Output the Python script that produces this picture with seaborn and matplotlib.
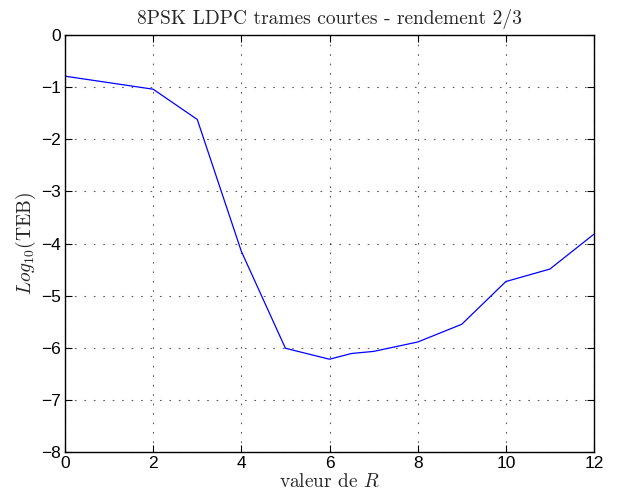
import matplotlib
matplotlib.use("Agg")
import matplotlib.pyplot as plt
import seaborn as sns
import pandas as pd

R = [0, 2, 3, 4, 5, 6, 6.5, 7, 8, 9, 10, 11, 12]
log_teb = [-0.79, -1.04, -1.62, -4.15, -6.01, -6.22, -6.11, -6.07, -5.89, -5.55, -4.73, -4.49, -3.82]
xticks = [0, 2, 4, 6, 8, 10, 12]
yticks = [0, -1, -2, -3, -4, -5, -6, -7, -8]

sns.set_style("white")
plt.rcParams['font.family'] = ['Liberation Sans', 'DejaVu Sans']
plt.rcParams['mathtext.fontset'] = 'cm'
plt.rcParams['axes.unicode_minus'] = True

df = pd.DataFrame({"R": R, "teb": log_teb})

fig = plt.figure(figsize=(6.25, 5), dpi=100)
ax = fig.add_axes([0.104, 0.096, 0.8464, 0.834])
sns.lineplot(data=df, x="R", y="teb", ax=ax, color="#0000ff", linewidth=0.9)

ax.set_xlim(0, 12)
ax.set_ylim(-8, 0)
ax.set_xticks(xticks)
ax.set_yticks(yticks)
ax.set_xticklabels([str(v) for v in xticks])
ax.set_yticklabels([("\u2212" + str(-v)) if v < 0 else str(v) for v in yticks])
ax.tick_params(direction='in', length=5, width=0.8, labelsize=12.5, top=True, right=True,
               bottom=True, left=True, colors='black', pad=3)
for s in ax.spines.values():
    s.set_visible(True)
    s.set_color('black')
    s.set_linewidth(1.0)
ax.grid(True, linestyle=(0, (1.5, 7)), color='#333333', linewidth=0.8, alpha=0.8)

ax.set_title("8PSK LDPC trames courtes - rendement 2/3", fontsize=14, pad=8,
             fontfamily='cmr10')
ax.set_xlabel(r"valeur de $R$", fontsize=14, labelpad=1, fontfamily='cmr10')
ax.set_ylabel(r"$Log_{10}\mathrm{(TEB)}$", fontsize=14, labelpad=2)

fig.savefig("out.png", dpi=100)
